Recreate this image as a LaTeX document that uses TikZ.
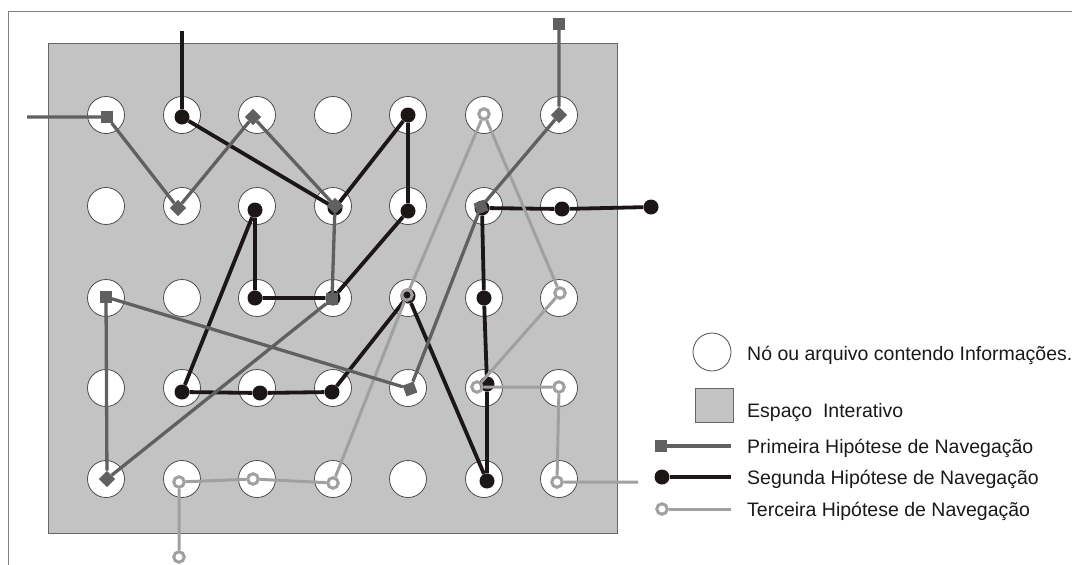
\documentclass[tikz,border=0pt]{standalone}
\usepackage{fontspec}
\setmainfont{Liberation Sans}
\definecolor{espaco}{HTML}{C3C3C3}
\definecolor{prim}{HTML}{606060}
\definecolor{seg}{HTML}{1C1616}
\definecolor{terc}{HTML}{A0A0A0}
\definecolor{moldura}{HTML}{808080}
\tikzset{
  no/.style={circle,draw=black!70,fill=white,line width=0.8pt,minimum size=37pt,inner sep=0pt},
  primline/.style={draw=prim,line width=3.3pt},
  segline/.style={draw=seg,line width=3.8pt},
  tercline/.style={draw=terc,line width=3pt},
  quad/.style={rectangle,fill=prim,minimum size=11.5pt,inner sep=0pt},
  losango/.style={quad,rotate=45},
  ponto/.style={circle,fill=seg,minimum size=15pt,inner sep=0pt},
  anel/.style={circle,draw=terc,line width=3pt,minimum size=10.5pt,inner sep=0pt},
  legenda/.style={anchor=base west,font=\fontsize{19.5}{23}\selectfont,text=black!90,inner sep=0pt},
}
\begin{document}
\begin{tikzpicture}[x=1pt,y=-1pt]
\useasboundingbox (0,0) rectangle (1072,565);
\draw[moldura,line width=1pt] (1072,11) -- (8,11) -- (8,565);
\draw[fill=espaco,draw=black!60,line width=0.8pt] (48,43) rectangle (617,533);
% nos do espaco interativo
\foreach \x [count=\i] in {106,182,257,333,408,484,559}
  \foreach \y [count=\j] in {115,206,298,388,479}
    \node[no] (c\i\j) at (\x,\y) {};
% segunda hipotese
\coordinate (s0) at (182,31);
\node[ponto] (s1) at (182,117) {};
\node[ponto] (s2) at (335,208) {};
\node[ponto] (s3) at (408,115) {};
\node[ponto] (s4) at (408,211) {};
\node[ponto] (s5) at (333,298) {};
\node[ponto] (s6) at (255,298) {};
\node[ponto] (s7) at (255,210) {};
\node[ponto] (s8) at (182,392) {};
\node[ponto] (s9) at (260,393) {};
\node[ponto] (s10) at (332,392) {};
\node[ponto] (s11) at (408,296) {};
\node[ponto] (s12) at (487,481) {};
\node[ponto] (s13) at (487,384) {};
\node[ponto] (s14) at (484,298) {};
\node[ponto] (s15) at (482,208) {};
\node[ponto] (s16) at (562,209) {};
\node[ponto] (s17) at (651,207) {};
\draw[segline] (s0) -- (s1) -- (s2) -- (s3) -- (s4) -- (s5) -- (s6) -- (s7) -- (s8)
  -- (s9) -- (s10) -- (s11) -- (s12) -- (s13) -- (s14) -- (s15) -- (s16) -- (s17);
% terceira hipotese
\node[anel] (t0) at (179,557) {};
\node[anel] (t1) at (179,482) {};
\node[anel] (t2) at (253,479) {};
\node[anel] (t3) at (333,483) {};
\node[anel] (t4) at (407,295) {};
\node[anel] (t5) at (484,114) {};
\node[anel] (t6) at (560,293) {};
\node[anel] (t7) at (477,387) {};
\node[anel] (t8) at (559,387) {};
\node[anel] (t9) at (557,482) {};
\coordinate (t10) at (638,482);
\draw[tercline] (t0) -- (t1) -- (t2) -- (t3) -- (t4) -- (t5) -- (t6) -- (t7) -- (t8)
  -- (t9) -- (t10);
% primeira hipotese
\coordinate (p0) at (27,117);
\node[quad] (p1) at (107,117) {};
\node[losango] (p2) at (178,208) {};
\node[losango] (p3) at (253,117) {};
\node[losango] (p4) at (335,206) {};
\node[quad] (p5) at (332,299) {};
\node[losango] (p6) at (107,479) {};
\node[quad] (p7) at (106,297) {};
\node[quad,rotate=20] (p8) at (410,389) {};
\node[quad,rotate=20] (p9) at (481,207) {};
\node[losango] (p10) at (559,115) {};
\node[quad] (p11) at (559,24) {};
\draw[primline] (p0) -- (p1) -- (p2) -- (p3) -- (p4) -- (p5) -- (p6) -- (p7) -- (p8)
  -- (p9) -- (p10) -- (p11);
% legenda
\node[no,minimum size=38pt] (lno) at (712,352) {};
\node[rectangle,fill=espaco,draw=black!60,line width=0.8pt,minimum width=38pt,minimum height=34pt] (lesp) at (714,405) {};
\node[quad] (lp) at (661,446) {};
\coordinate (lpf) at (731,446);
\draw[primline] (lp) -- (lpf);
\node[ponto] (ls) at (662,477) {};
\coordinate (lsf) at (731,477);
\draw[segline] (ls) -- (lsf);
\node[anel] (lt) at (662,509) {};
\coordinate (ltf) at (731,509);
\draw[tercline] (lt) -- (ltf);
\node[legenda] (tno) at (747,360) {Nó ou arquivo contendo Informações.};
\node[legenda] (tesp) at (747,417) {Espaço~ Interativo};
\node[legenda] (tp) at (747,453) {Primeira Hipótese de Navegação};
\node[legenda] (ts) at (747,484) {Segunda Hipótese de Navegação};
\node[legenda] (tt) at (747,516) {Terceira Hipótese de Navegação};
\end{tikzpicture}
\end{document}
